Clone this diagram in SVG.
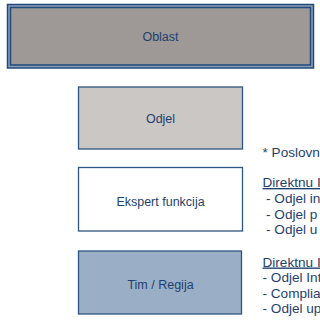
<svg xmlns="http://www.w3.org/2000/svg" width="320" height="320" viewBox="0 0 320 320">
<style>
.box{stroke:#2f5583;stroke-width:1.3}
.lbl{font-family:"Liberation Sans",Arial,sans-serif;font-size:12.5px;fill:#1f3f6e;text-anchor:middle}
.note{font-family:"Liberation Sans",Arial,sans-serif;font-size:13.6px;fill:#1f3f6e}
.u{text-decoration:underline}
</style>
<rect width="320" height="320" fill="#ffffff"/>
<g id="oblast">
<rect x="7.5" y="4.5" width="306" height="63.5" fill="#8e9fb6" stroke="#1f4a7c" stroke-width="1.5"/>
<rect x="10.5" y="7.5" width="300" height="57.5" fill="#9e9996" stroke="#1f4a7c" stroke-width="1.5"/>
<text class="lbl" x="160.5" y="41">Oblast</text>
</g>
<g id="odjel">
<rect class="box" x="78.5" y="87" width="164" height="62" fill="#cbc7c4"/>
<text class="lbl" x="160.5" y="123">Odjel</text>
</g>
<g id="ekspert">
<rect class="box" x="78.5" y="167.5" width="164" height="63.5" fill="#ffffff"/>
<text class="lbl" x="160.5" y="206">Ekspert funkcija</text>
</g>
<g id="tim">
<rect class="box" x="78.5" y="251" width="163" height="63" fill="#9aafc5"/>
<text class="lbl" x="160.5" y="288.5">Tim / Regija</text>
</g>
<g id="notes">
<text class="note" x="262.5" y="156.5">* Poslovn</text>
<text class="note u" x="262.5" y="187">Direktnu I</text>
<text class="note" x="266" y="203">- Odjel in</text>
<text class="note" x="266" y="218.5">- Odjel p</text>
<text class="note" x="266" y="234">- Odjel u</text>
<text class="note u" x="262.5" y="266.5">Direktnu I</text>
<text class="note" x="262.5" y="282">- Odjel Int</text>
<text class="note" x="262.5" y="297.5">- Complia</text>
<text class="note" x="262.5" y="313">- Odjel up</text>
</g>
<g id="connectors"/>
</svg>
